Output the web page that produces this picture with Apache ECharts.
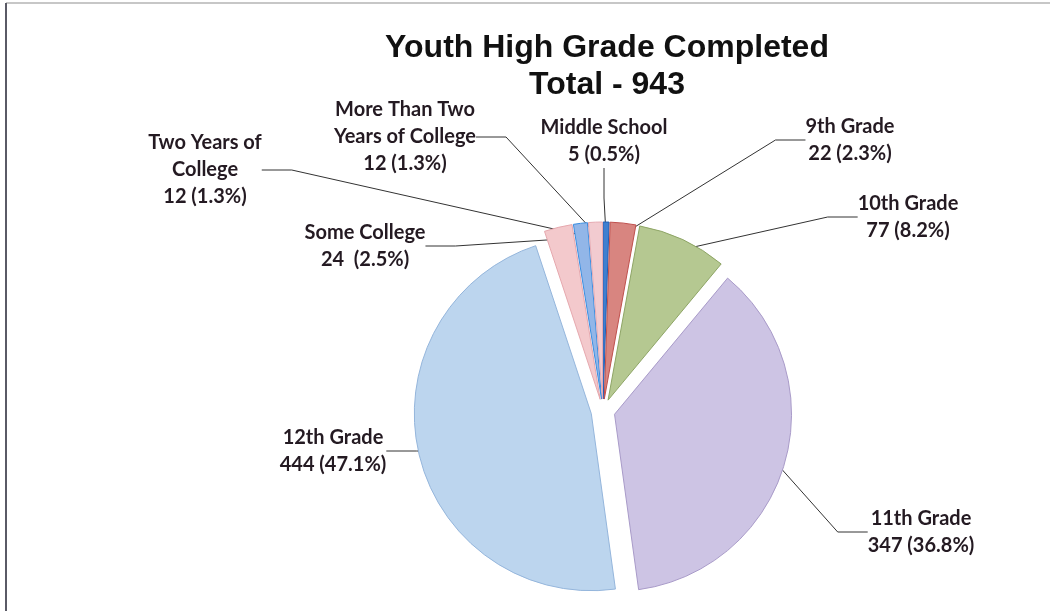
<!DOCTYPE html>
<html>
<head>
<meta charset="utf-8">
<script src="https://cdn.jsdelivr.net/npm/echarts@6/dist/echarts.min.js"></script>
<style>
  html, body { margin: 0; padding: 0; background: #fff; }
  #chart { width: 1050px; height: 611px; }
</style>
</head>
<body>
<div id="chart"></div>
<script>
// data, clockwise from 12 o'clock
var categories = ['Middle School', '9th Grade', '10th Grade', '11th Grade', '12th Grade',
    'Some College', 'Two Years of College', 'More Than Two Years of College'];
var counts = [5, 22, 77, 347, 444, 24, 12, 12];
// how each label is broken into lines in the picture
var labelNames = ['Middle School', '9th Grade', '10th Grade', '11th Grade', '12th Grade',
    'Some College', 'Two Years of\nCollege', 'More Than Two\nYears of College'];
var titleLines = ['Youth High Grade Completed', 'Total - 943'];

// styling
var sliceColors = ['#3f7fd0', '#d88580', '#b5c891', '#cdc4e4', '#bcd5ee', '#f3c9cc', '#92b6e8', '#f2cbd0'];
var edgeColors  = ['#1f5fb8', '#c0504d', '#8ea565', '#a99bc9', '#95b6dc', '#e6a8ae', '#3a8de0', '#e6aab2'];
// label anchor (centre of the text block)
var labelPos = [[604, 141], [850, 140], [908, 217], [921, 532], [333, 451],
    [365, 246], [205, 170], [405, 137]];

var total = counts.reduce(function (a, b) { return a + b; }, 0);

var pieData = categories.map(function (name, i) {
    return {
        name: name,
        value: counts[i],
        itemStyle: { color: sliceColors[i], borderColor: edgeColors[i], borderWidth: 1 }
    };
});

var chart = echarts.init(document.getElementById('chart'));

var option = {
    backgroundColor: '#fff',
    animation: false,
    graphic: [
        { type: 'line', shape: { x1: 6, y1: 3, x2: 1050, y2: 3 }, style: { stroke: '#b4b4b4', lineWidth: 1.5 } },
        { type: 'line', shape: { x1: 6, y1: 3, x2: 6, y2: 611 }, style: { stroke: '#5a5a66', lineWidth: 2 } },
        {
            type: 'text', x: 607, y: 48,
            style: {
                text: titleLines[0], align: 'center', verticalAlign: 'middle',
                font: 'bold 32px "Liberation Sans", Arial, sans-serif', fill: '#111'
            }
        },
        {
            type: 'text', x: 607, y: 85,
            style: {
                text: titleLines[1], align: 'center', verticalAlign: 'middle',
                font: 'bold 32px "Liberation Sans", Arial, sans-serif', fill: '#111'
            }
        }
    ],
    series: [{
        type: 'pie',
        center: [603, 411],
        radius: 177,
        startAngle: 90,
        clockwise: true,
        selectedMode: 'multiple',
        selectedOffset: 12,
        avoidLabelOverlap: false,
        emphasis: { disabled: true },
        label: {
            show: true,
            position: 'outside',
            color: '#241a22',
            fontFamily: 'Lato',
            fontWeight: 'bold',
            fontSize: 20,
            lineHeight: 27,
            formatter: function (p) {
                var pct = (p.value / total * 100).toFixed(1);
                var gap = p.dataIndex === 5 ? '  ' : ' ';
                return labelNames[p.dataIndex] + '\n' + p.value + gap + '(' + pct + '%)';
            }
        },
        labelLine: {
            show: true,
            lineStyle: { color: '#333', width: 1 }
        },
        labelLayout: function (params) {
            var pos = labelPos[params.dataIndex];
            return {
                x: pos[0],
                y: pos[1],
                align: 'center',
                verticalAlign: 'middle'
            };
        },
        data: pieData
    }]
};

chart.setOption(option);

// explode every slice; keep the labels where they were laid out
var seriesData = chart.getModel().getSeriesByIndex(0).getData();
seriesData.each(function (i) {
    var sector = seriesData.getItemGraphicEl(i);
    var text = sector.getTextContent();
    var line = sector.getTextGuideLine();
    if (text && text.states && text.states.select) {
        delete text.states.select.x;
        delete text.states.select.y;
    }
    if (line && line.states && line.states.select) {
        delete line.states.select.x;
        delete line.states.select.y;
    }
});
chart.dispatchAction({ type: 'select', seriesIndex: 0, dataIndex: counts.map(function (v, i) { return i; }) });
seriesData.each(function (i) {
    var sector = seriesData.getItemGraphicEl(i);
    var line = sector.getTextGuideLine();
    if (!line || !line.shape.points) return;
    var pts = line.shape.points.map(function (p) { return [p[0], p[1]]; });
    pts[0] = [pts[0][0] + sector.x, pts[0][1] + sector.y];
    line.setShape({ points: pts });
});
</script>
</body>
</html>
